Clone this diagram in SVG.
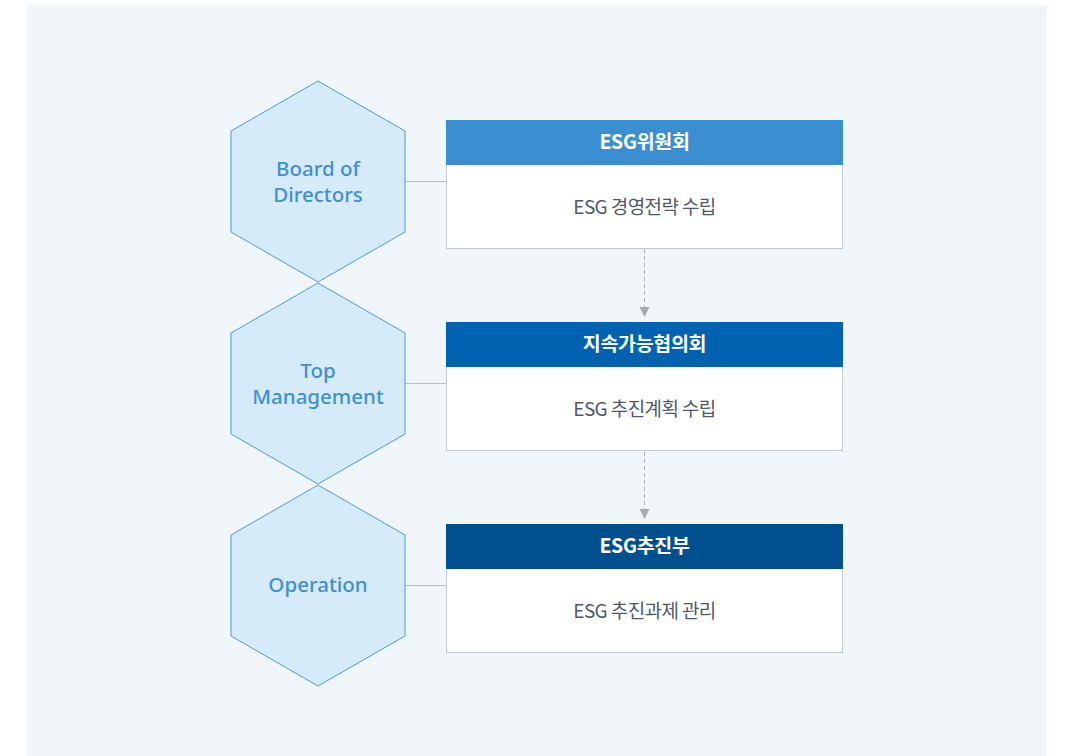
<svg xmlns="http://www.w3.org/2000/svg" width="1065" height="756" viewBox="0 0 1065 756">
<defs>
<style>
.hex{fill:#d5ebf9;stroke:#4b9bd8;stroke-width:1}
.hext{font-family:"Noto Sans","Open Sans",sans-serif;font-size:20.5px;font-weight:500;fill:#3f90d2;text-anchor:middle}
.body{fill:#ffffff;stroke:#c4c8cc;stroke-width:1}
.ht{font-family:"Noto Sans CJK KR","Noto Sans",sans-serif;font-size:19.5px;font-weight:700;fill:#ffffff;text-anchor:middle;letter-spacing:-0.3px}
.bt{font-family:"Noto Sans CJK KR","Noto Sans",sans-serif;font-size:19px;fill:#4e5a6a;text-anchor:middle;letter-spacing:-0.6px}
.link{stroke:#b9bdc2;stroke-width:1;fill:none}
.dash{stroke:#b0b3b7;stroke-width:1;stroke-dasharray:4 3;fill:none}
</style>
<marker id="arr" viewBox="0 0 10 10" refX="10" refY="5" markerWidth="10" markerHeight="13" markerUnits="userSpaceOnUse" orient="auto">
<path d="M0,0 L10,5 L0,10 Z" fill="#a8abb0"/>
</marker>
</defs>
<rect x="0" y="0" width="1065" height="756" fill="#ffffff"/>
<rect x="26" y="5" width="1021" height="751" fill="#f0f6fa"/>
<g id="connectors">
<line class="link" x1="405" y1="181.5" x2="446" y2="181.5"/>
<line class="link" x1="405" y1="383.5" x2="446" y2="383.5"/>
<line class="link" x1="405" y1="585.5" x2="446" y2="585.5"/>
<line class="dash" x1="644.5" y1="249" x2="644.5" y2="317" marker-end="url(#arr)"/>
<line class="dash" x1="644.5" y1="452" x2="644.5" y2="519" marker-end="url(#arr)"/>
</g>
<g id="hex-board">
<polygon class="hex" points="318,81 405,131 405,232 318,282 231,232 231,131"/>
<text class="hext" x="318" y="176">Board of</text>
<text class="hext" x="318" y="202">Directors</text>
</g>
<g id="hex-top">
<polygon class="hex" points="318,283 405,333 405,434 318,484 231,434 231,333"/>
<text class="hext" x="318" y="378">Top</text>
<text class="hext" x="318" y="404">Management</text>
</g>
<g id="hex-op">
<polygon class="hex" points="318,485 405,535 405,636 318,686 231,636 231,535"/>
<text class="hext" x="318" y="592">Operation</text>
</g>
<g id="box-committee">
<rect class="body" x="446.5" y="120.5" width="396" height="128"/>
<rect x="446" y="120" width="397" height="45" fill="#3b8fd0"/>
<text class="ht" x="644.5" y="149">ESG위원회</text>
<text class="bt" x="644.5" y="214">ESG 경영전략 수립</text>
</g>
<g id="box-council">
<rect class="body" x="446.5" y="322.5" width="396" height="128"/>
<rect x="446" y="322" width="397" height="45" fill="#0062b1"/>
<text class="ht" x="644.5" y="351">지속가능협의회</text>
<text class="bt" x="644.5" y="416">ESG 추진계획 수립</text>
</g>
<g id="box-dept">
<rect class="body" x="446.5" y="524.5" width="396" height="128"/>
<rect x="446" y="524" width="397" height="45" fill="#00508f"/>
<text class="ht" x="644.5" y="553">ESG추진부</text>
<text class="bt" x="644.5" y="618">ESG 추진과제 관리</text>
</g>
</svg>
